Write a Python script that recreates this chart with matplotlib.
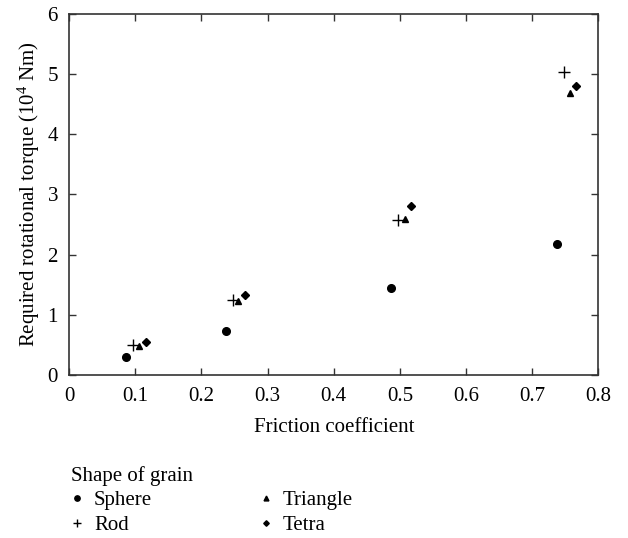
import matplotlib
matplotlib.use("Agg")
import matplotlib.pyplot as plt

plt.rcParams['font.family'] = ['Liberation Serif', 'DejaVu Serif']
plt.rcParams['mathtext.fontset'] = 'custom'
plt.rcParams['mathtext.rm'] = 'Liberation Serif'
plt.rcParams['mathtext.it'] = 'Liberation Serif:italic'

# Friction coefficient vs. required rotational torque (10^4 Nm) per grain shape
sphere_x = [0.086, 0.237, 0.487, 0.737]
sphere_y = [0.30, 0.73, 1.45, 2.18]
rod_x = [0.096, 0.248, 0.497, 0.748]
rod_y = [0.50, 1.24, 2.58, 5.04]
tri_x = [0.106, 0.256, 0.507, 0.757]
tri_y = [0.48, 1.23, 2.60, 4.68]
tetra_x = [0.116, 0.266, 0.516, 0.766]
tetra_y = [0.54, 1.33, 2.81, 4.80]

x_ticks = [0, 0.1, 0.2, 0.3, 0.4, 0.5, 0.6, 0.7, 0.8]
y_ticks = [0, 1, 2, 3, 4, 5, 6]

fig = plt.figure(figsize=(6.28, 5.38), dpi=100)
ax = fig.add_axes([0.110, 0.303, 0.843, 0.671])

ax.plot(sphere_x, sphere_y, 'o', color='black', markersize=5.5, label='Sphere', linestyle='none')
ax.plot(rod_x, rod_y, '+', color='black', markersize=9, markeredgewidth=1.0, label='Rod', linestyle='none')
ax.plot(tri_x, tri_y, '^', color='black', markersize=5, label='Triangle', linestyle='none')
ax.plot(tetra_x, tetra_y, 'D', color='black', markersize=4, label='Tetra', linestyle='none')

ax.set_xlim(0, 0.8)
ax.set_ylim(0, 6)
ax.set_xticks(x_ticks)
ax.set_xticklabels(['0', '0.1', '0.2', '0.3', '0.4', '0.5', '0.6', '0.7', '0.8'])
ax.set_yticks(y_ticks)
ax.tick_params(direction='in', top=True, right=True, length=5, width=1,
               labelsize=15, color='#333333')
ax.tick_params(axis='x', pad=9)
ax.tick_params(axis='y', pad=8)
for s in ax.spines.values():
    s.set_linewidth(1.2)
    s.set_color('#333333')

ax.set_xlabel('Friction coefficient', fontsize=15, labelpad=8)
ax.set_ylabel(r'Required rotational torque (10$^{4}$ Nm)', fontsize=15, labelpad=4)

handles, labels = ax.get_legend_handles_labels()
leg = fig.legend(handles, labels, loc='upper left', bbox_to_anchor=(0.100, 0.150),
                 ncol=2, frameon=False, title='Shape of grain', alignment='left',
                 fontsize=15, title_fontsize=15, markerscale=0.7,
                 handlelength=0.6, handletextpad=0.5, columnspacing=5.15,
                 labelspacing=0.25, borderaxespad=0)

fig.savefig('out.png', dpi=100)
